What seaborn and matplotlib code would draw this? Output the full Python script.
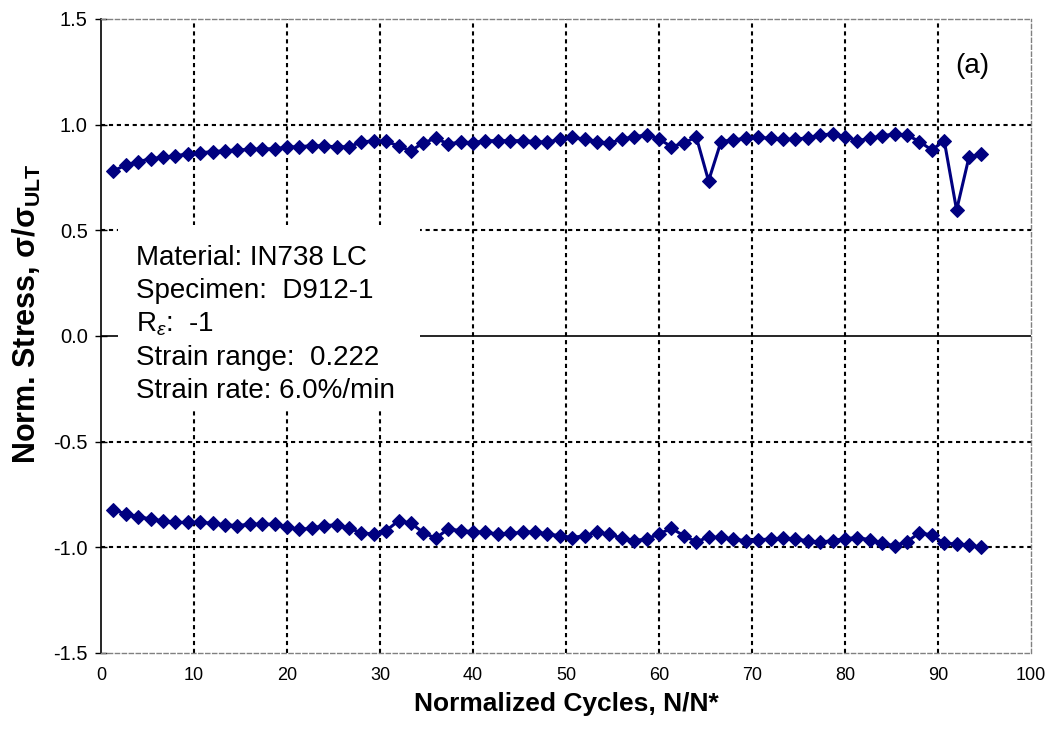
import matplotlib
matplotlib.use("Agg")
import matplotlib.pyplot as plt
from matplotlib.patches import Rectangle
import seaborn as sns
import pandas as pd

cycles = [1.33, 2.67, 4.00, 5.33, 6.67, 8.00, 9.33, 10.67, 12.00, 13.33,
          14.67, 16.00, 17.33, 18.67, 20.00, 21.33, 22.67, 24.00, 25.33, 26.67,
          28.00, 29.33, 30.67, 32.00, 33.33, 34.67, 36.00, 37.33, 38.67, 40.00,
          41.33, 42.67, 44.00, 45.33, 46.67, 48.00, 49.33, 50.67, 52.00, 53.33,
          54.67, 56.00, 57.33, 58.67, 60.00, 61.33, 62.67, 64.00, 65.33, 66.67,
          68.00, 69.33, 70.67, 72.00, 73.33, 74.67, 76.00, 77.33, 78.67, 80.00,
          81.33, 82.67, 84.00, 85.33, 86.67, 88.00, 89.33, 90.67, 92.00, 93.33,
          94.67]

stress_max = [0.781, 0.809, 0.825, 0.838, 0.846, 0.853, 0.861, 0.867, 0.872, 0.877,
              0.880, 0.883, 0.885, 0.886, 0.893, 0.896, 0.900, 0.900, 0.894, 0.896,
              0.917, 0.924, 0.921, 0.899, 0.876, 0.915, 0.935, 0.909, 0.917, 0.915,
              0.924, 0.924, 0.924, 0.924, 0.920, 0.917, 0.931, 0.940, 0.931, 0.920,
              0.912, 0.931, 0.943, 0.951, 0.932, 0.896, 0.912, 0.943, 0.734, 0.920,
              0.928, 0.935, 0.940, 0.935, 0.931, 0.931, 0.938, 0.951, 0.956, 0.943,
              0.924, 0.935, 0.947, 0.956, 0.951, 0.920, 0.880, 0.924, 0.596, 0.846,
              0.861]

stress_min = [-0.823, -0.842, -0.855, -0.866, -0.875, -0.882, -0.882, -0.882, -0.886, -0.894,
              -0.897, -0.891, -0.890, -0.891, -0.905, -0.915, -0.910, -0.897, -0.894, -0.910,
              -0.931, -0.938, -0.921, -0.874, -0.886, -0.931, -0.957, -0.913, -0.921, -0.926,
              -0.929, -0.937, -0.934, -0.929, -0.926, -0.937, -0.945, -0.954, -0.945, -0.929,
              -0.938, -0.957, -0.968, -0.961, -0.937, -0.910, -0.945, -0.974, -0.952, -0.953,
              -0.961, -0.969, -0.964, -0.961, -0.957, -0.961, -0.969, -0.976, -0.968, -0.959,
              -0.954, -0.964, -0.981, -0.992, -0.974, -0.931, -0.942, -0.981, -0.984, -0.989,
              -1.000]

x_ticks = [0, 10, 20, 30, 40, 50, 60, 70, 80, 90, 100]
y_ticks = [-1.5, -1.0, -0.5, 0.0, 0.5, 1.0, 1.5]

info_lines = ["Material: IN738 LC",
              "Specimen:  D912-1",
              r"R$_{\epsilon}$:  -1",
              "Strain range:  0.222",
              "Strain rate: 6.0%/min"]

sns.set_theme(style="white")
plt.rcParams["font.family"] = ["Liberation Sans", "DejaVu Sans"]
plt.rcParams["mathtext.fontset"] = "custom"
plt.rcParams["mathtext.rm"] = "Liberation Sans"
plt.rcParams["mathtext.it"] = "Liberation Sans:italic"
plt.rcParams["mathtext.bf"] = "Liberation Sans:bold"
plt.rcParams["text.color"] = "black"
plt.rcParams["axes.labelcolor"] = "black"
plt.rcParams["xtick.color"] = "black"
plt.rcParams["ytick.color"] = "black"

fig = plt.figure(figsize=(10.5, 7.3), dpi=100)
ax = fig.add_axes([0.0962, 0.1055, 0.8857, 0.8685])

navy = "#000080"
df_max = pd.DataFrame({"x": cycles, "y": stress_max})
df_min = pd.DataFrame({"x": cycles, "y": stress_min})
for d in (df_max, df_min):
    sns.lineplot(data=d, x="x", y="y", ax=ax, color=navy, linewidth=2.2,
                 marker="D", markersize=7.5, markeredgecolor=navy, zorder=5)

ax.set_xlim(0, 100)
ax.set_ylim(-1.5, 1.5)
ax.set_xticks(x_ticks)
ax.set_yticks(y_ticks)
ax.set_xticklabels([str(t) for t in x_ticks], fontsize=13)
ax.set_yticklabels([f"{t:.1f}" for t in y_ticks], fontsize=14.5)

# grid
for gx in x_ticks[1:-1]:
    ax.axvline(gx, color="black", linestyle=(0, (2, 1.8)), linewidth=1.5, zorder=1)
for gy in [-1.0, -0.5, 0.5, 1.0]:
    ax.axhline(gy, color="black", linestyle=(0, (2, 1.8)), linewidth=1.5, zorder=1)
ax.axhline(0, color="black", linewidth=1.2, zorder=2)

for side in ["top", "right", "bottom"]:
    ax.spines[side].set_color("#808080")
    ax.spines[side].set_linestyle((0, (3, 2)))
    ax.spines[side].set_linewidth(1.0)
ax.spines["left"].set_color("black")
ax.spines["left"].set_linewidth(1.2)

ax.tick_params(axis="y", direction="inout", length=9, width=1, left=True, pad=5)
ax.tick_params(axis="x", length=0, pad=10)

ax.set_xlabel("Normalized Cycles, N/N*", fontsize=19, fontweight="bold", labelpad=6)
ax.set_ylabel(r"Norm. Stress, σ/σ$_{\mathbf{ULT}}$", fontsize=22, fontweight="bold")
ax.yaxis.set_label_coords(-0.062, 0.535)

# white panel behind the annotation
ax.add_patch(Rectangle((0.0183, 0.383), 0.3247, 0.292, transform=ax.transAxes,
                       facecolor="white", edgecolor="none", zorder=3))
ax.text(0.0376, 0.643, "\n".join(info_lines), transform=ax.transAxes,
        fontsize=20, va="top", ha="left", linespacing=1.33, zorder=6)

ax.text(0.9366, 0.926, "(a)", transform=ax.transAxes, fontsize=20,
        va="center", ha="center", zorder=6)

fig.savefig("out.png", dpi=100)
